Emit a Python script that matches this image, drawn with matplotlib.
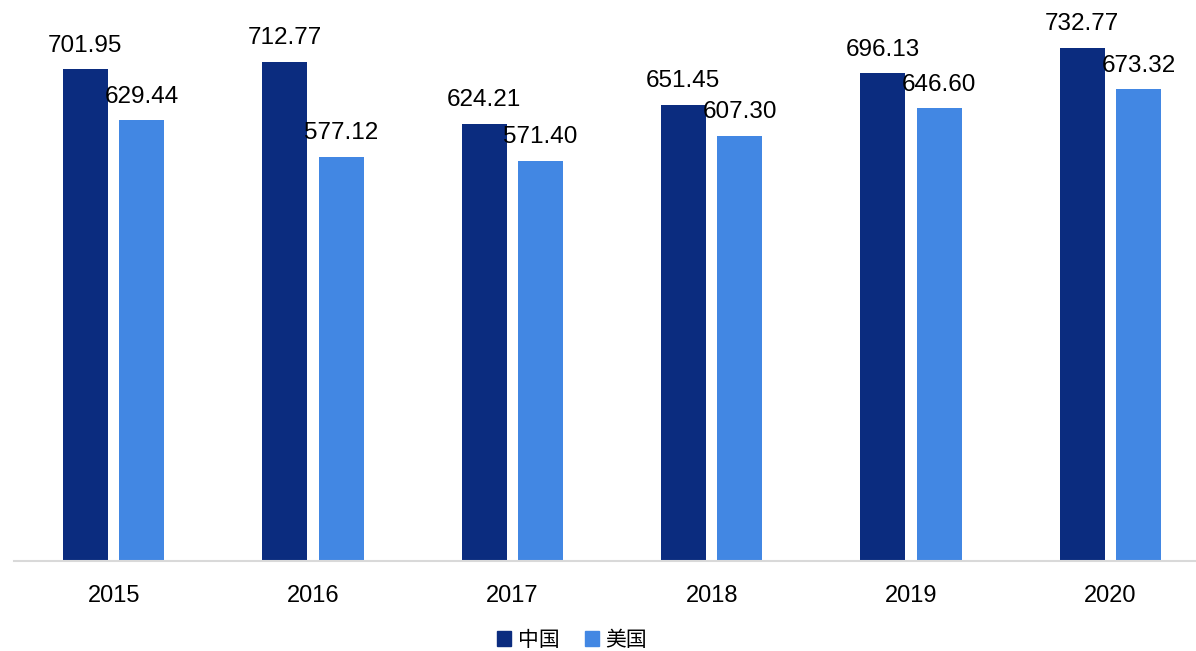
import numpy as np
import matplotlib
matplotlib.use('Agg')
import matplotlib.pyplot as plt
from matplotlib.patches import Patch

plt.rcParams['font.family'] = ['Liberation Sans', 'Noto Sans CJK SC', 'DejaVu Sans']

# data
years = ['2015', '2016', '2017', '2018', '2019', '2020']
china = [701.95, 712.77, 624.21, 651.45, 696.13, 732.77]
usa = [629.44, 577.12, 571.40, 607.30, 646.60, 673.32]
series_names = ['中国', '美国']

dark_blue = '#0B2C7F'
light_blue = '#4287E3'

fig = plt.figure(figsize=(11.96, 6.51), dpi=100)
# axes runs a bit past the right edge, like the original
ax = fig.add_axes([14 / 1196, 90 / 651, 1196 / 1196, 561 / 651])

x = np.arange(len(years))
w = 0.226
off = 0.142
b1 = ax.bar(x - off, china, width=w, color=dark_blue)
b2 = ax.bar(x + off, usa, width=w, color=light_blue)

for bars, vals in [(b1, china), (b2, usa)]:
    for rect, v in zip(bars, vals):
        ax.annotate(f'{v:.2f}', (rect.get_x() + rect.get_width() / 2, rect.get_height()),
                    xytext=(0, 9), textcoords='offset points',
                    ha='center', va='bottom', fontsize=17.5, color='black')

ax.set_xlim(-0.5, 5.5)
ax.set_ylim(0, 801)
ax.set_xticks(x)
ax.set_xticklabels(years, fontsize=17)
ax.tick_params(axis='x', length=0, pad=17)
ax.set_yticks([])
for s in ['top', 'right', 'left']:
    ax.spines[s].set_visible(False)
ax.spines['bottom'].set_color('#D9D9D9')
ax.spines['bottom'].set_linewidth(1.5)

handles = [Patch(color=dark_blue), Patch(color=light_blue)]
fig.legend(handles, series_names, loc='center', bbox_to_anchor=(572 / 1196, 1 - 640 / 651),
           ncol=2, frameon=False, fontsize=15, handlelength=0.7, handleheight=0.7,
           handletextpad=0.3, columnspacing=1.2)

fig.savefig('out.png', dpi=100)
